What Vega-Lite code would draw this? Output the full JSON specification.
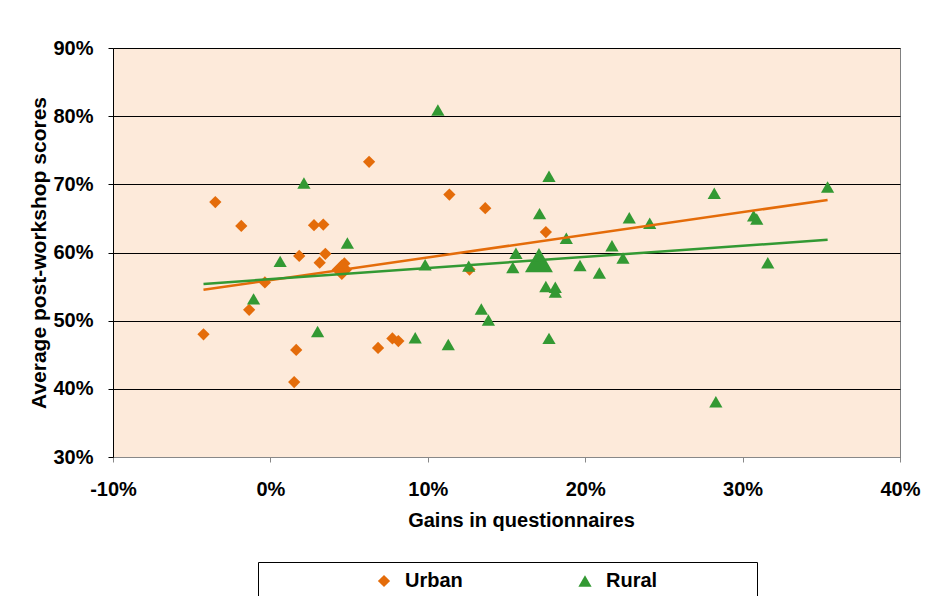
{
  "$schema": "https://vega.github.io/schema/vega-lite/v6.json",
  "width": 787,
  "height": 409,
  "autosize": {"type": "none"},
  "padding": {"left": 113, "top": 48, "right": 31, "bottom": 139},
  "background": "#ffffff",
  "config": {
    "view": {"fill": "#FDEADA", "stroke": "#808080", "strokeWidth": 1},
    "font": "Liberation Sans",
    "axis": {
      "labelFont": "Liberation Sans",
      "labelFontWeight": "bold",
      "labelFontSize": 20,
      "labelColor": "#000000",
      "titleFont": "Liberation Sans",
      "titleFontWeight": "bold",
      "titleFontSize": 20,
      "titleColor": "#000000"
    },
    "legend": {
      "labelFont": "Liberation Sans",
      "labelFontWeight": "bold",
      "labelFontSize": 20,
      "labelColor": "#000000"
    }
  },
  "data": {
    "values": [
      {"group": "Urban", "gain": -4.25, "score": 48.0},
      {"group": "Urban", "gain": -3.5, "score": 67.4},
      {"group": "Urban", "gain": -1.85, "score": 63.9},
      {"group": "Urban", "gain": -1.35, "score": 51.6},
      {"group": "Urban", "gain": -0.35, "score": 55.6},
      {"group": "Urban", "gain": 1.83, "score": 59.5},
      {"group": "Urban", "gain": 2.77, "score": 64.0},
      {"group": "Urban", "gain": 3.36, "score": 64.1},
      {"group": "Urban", "gain": 3.49, "score": 59.8},
      {"group": "Urban", "gain": 3.13, "score": 58.5},
      {"group": "Urban", "gain": 4.7, "score": 58.4},
      {"group": "Urban", "gain": 6.27, "score": 73.3},
      {"group": "Urban", "gain": 1.64, "score": 45.7},
      {"group": "Urban", "gain": 1.51, "score": 41.0},
      {"group": "Urban", "gain": 6.84, "score": 46.0},
      {"group": "Urban", "gain": 7.75, "score": 47.4},
      {"group": "Urban", "gain": 8.13, "score": 47.0},
      {"group": "Urban", "gain": 11.37, "score": 68.5},
      {"group": "Urban", "gain": 13.65, "score": 66.5},
      {"group": "Urban", "gain": 17.5, "score": 63.0},
      {"group": "Urban", "gain": 12.65, "score": 57.5},
      {"group": "Rural", "gain": 2.13, "score": 70.2},
      {"group": "Rural", "gain": 4.89, "score": 61.4},
      {"group": "Rural", "gain": 0.62, "score": 58.7},
      {"group": "Rural", "gain": -1.07, "score": 53.2},
      {"group": "Rural", "gain": 3.0, "score": 48.4},
      {"group": "Rural", "gain": 10.64, "score": 80.9},
      {"group": "Rural", "gain": 17.7, "score": 71.2},
      {"group": "Rural", "gain": 17.1, "score": 65.7},
      {"group": "Rural", "gain": 18.8, "score": 62.1},
      {"group": "Rural", "gain": 9.83, "score": 58.2},
      {"group": "Rural", "gain": 12.6, "score": 58.0},
      {"group": "Rural", "gain": 15.6, "score": 59.9},
      {"group": "Rural", "gain": 15.4, "score": 57.8},
      {"group": "Rural", "gain": 19.67, "score": 58.1},
      {"group": "Rural", "gain": 20.9, "score": 57.0},
      {"group": "Rural", "gain": 21.7, "score": 61.0},
      {"group": "Rural", "gain": 22.4, "score": 59.2},
      {"group": "Rural", "gain": 22.8, "score": 65.1},
      {"group": "Rural", "gain": 17.5, "score": 55.0},
      {"group": "Rural", "gain": 18.1, "score": 54.9},
      {"group": "Rural", "gain": 18.1, "score": 54.2},
      {"group": "Rural", "gain": 13.4, "score": 51.7},
      {"group": "Rural", "gain": 13.85, "score": 50.1},
      {"group": "Rural", "gain": 9.2, "score": 47.5},
      {"group": "Rural", "gain": 11.3, "score": 46.5},
      {"group": "Rural", "gain": 17.7, "score": 47.4},
      {"group": "Rural", "gain": 24.1, "score": 64.3},
      {"group": "Rural", "gain": 28.2, "score": 68.7},
      {"group": "Rural", "gain": 35.4, "score": 69.6},
      {"group": "Rural", "gain": 30.7, "score": 65.4},
      {"group": "Rural", "gain": 30.9, "score": 64.9},
      {"group": "Rural", "gain": 31.6, "score": 58.5},
      {"group": "Rural", "gain": 28.3, "score": 38.1}
    ]
  },
  "encoding": {
    "x": {
      "field": "gain", "type": "quantitative",
      "scale": {"domain": [-10, 40], "nice": false, "zero": false},
      "axis": {
        "values": [-10, 0, 10, 20, 30, 40],
        "labelExpr": "datum.value + '%'",
        "grid": false,
        "domainColor": "#888888",
        "tickColor": "#888888",
        "tickSize": 5,
        "labelPadding": 17,
        "labelFlush": false,
        "labelOverlap": false,
        "title": "Gains in questionnaires",
        "titlePadding": 11,
        "titleX": 408
      }
    },
    "y": {
      "field": "score", "type": "quantitative",
      "scale": {"domain": [30, 90], "nice": false, "zero": false},
      "axis": {
        "values": [30, 40, 50, 60, 70, 80, 90],
        "labelExpr": "datum.value + '%'",
        "grid": true,
        "gridColor": "#000000",
        "gridOpacity": 1,
        "gridWidth": 1,
        "domainColor": "#000000",
        "tickColor": "#000000",
        "tickSize": 5,
        "labelPadding": 15,
        "title": "Average post-workshop scores",
        "titleFontSize": 21,
        "titlePadding": 3
      }
    }
  },
  "layer": [
    {
      "mark": {"type": "point", "filled": true, "opacity": 1, "strokeWidth": 0},
      "encoding": {
        "color": {
          "field": "group", "type": "nominal",
          "scale": {"domain": ["Urban", "Rural"], "range": ["#E46C0A", "#339933"]},
          "legend": {
            "orient": "none",
            "legendX": 145,
            "legendY": 514,
            "direction": "horizontal",
            "columns": 2,
            "title": "\u00a0",
            "titleOrient": "right",
            "titlePadding": 91,
            "titleFontSize": 20,
            "padding": 9,
            "strokeColor": "#000000",
            "fillColor": "#ffffff",
            "symbolSize": 121,
            "symbolStrokeWidth": 0,
            "symbolOffset": 107,
            "labelOffset": 11,
            "columnPadding": 5
          }
        },
        "shape": {
          "field": "group", "type": "nominal",
          "scale": {"domain": ["Urban", "Rural"], "range": ["diamond", "triangle-up"]}
        },
        "size": {
          "field": "group", "type": "nominal",
          "scale": {"domain": ["Urban", "Rural"], "range": [150, 175]},
          "legend": null
        }
      }
    },
    {
      "transform": [
        {"aggregate": [
          {"op": "mean", "field": "gain", "as": "gain"},
          {"op": "mean", "field": "score", "as": "score"}
        ], "groupby": ["group"]}
      ],
      "mark": {"type": "point", "filled": true, "opacity": 1, "strokeWidth": 0},
      "encoding": {
        "color": {"field": "group", "type": "nominal"},
        "shape": {"field": "group", "type": "nominal"},
        "size": {"condition": {"test": "datum.group == 'Urban'", "value": 420}, "value": 780}
      }
    },
    {
      "transform": [
        {"regression": "score", "on": "gain", "groupby": ["group"], "extent": [-4.25, 35.4]}
      ],
      "mark": {"type": "line", "strokeWidth": 2.5},
      "encoding": {
        "stroke": {
          "field": "group", "type": "nominal",
          "scale": {"domain": ["Urban", "Rural"], "range": ["#E46C0A", "#339933"]},
          "legend": null
        }
      }
    }
  ]
}
